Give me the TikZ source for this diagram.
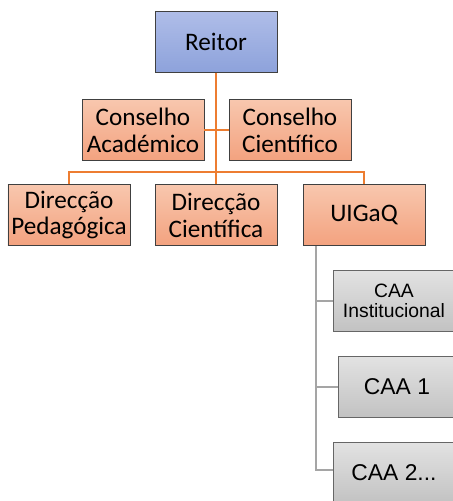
\documentclass[tikz,border=0pt]{standalone}
\usepackage{fontspec}
\setmainfont{Carlito}
\newfontfamily\arialfont{Liberation Sans}
\usepackage{tikz}
\usetikzlibrary{calc}

\definecolor{orgline}{HTML}{ED7D31}
\definecolor{greyline}{HTML}{A5A5A5}
\definecolor{bluetop}{HTML}{AFBDE8}
\definecolor{bluebot}{HTML}{8DA2DB}
\definecolor{orgtop}{HTML}{F8C7AE}
\definecolor{orgbot}{HTML}{F3A27F}
\definecolor{greytop}{HTML}{E2E2E2}
\definecolor{greybot}{HTML}{C2C2C2}

\begin{document}
\begin{tikzpicture}[x=0.3mm, y=-0.3mm,
        box/.style={draw=black!75, line width=0.4pt, minimum width=36.6mm, minimum height=18.3mm, align=center, font=\fontsize{21.5}{23}\selectfont, inner sep=1pt},
        bluebox/.style={box, top color=bluetop, bottom color=bluebot},
        orgbox/.style={box, top color=orgtop, bottom color=orgbot},
        greybox/.style={box, draw=black!60, top color=greytop, bottom color=greybot, font=\arialfont\fontsize{19.5}{21}\selectfont},
        orgedge/.style={draw=orgline, line width=1.6pt},
        greyedge/.style={draw=greyline, line width=1.6pt}]
        \useasboundingbox (0,0) rectangle (452,501);

        \node[bluebox] (reitor) at (216,42) {Reitor};
        \node[orgbox] (consAcad) at (143,130) {Conselho\\Académico};
        \node[orgbox] (consCient) at (290,130) {Conselho\\Científico};
        \node[orgbox] (dirPed) at (69,215) {Direcção\\Pedagógica};
        \node[orgbox] (dirCient) at (216,215) {Direcção\\Científica};
        \node[orgbox] (uigaq) at (364,215) {UIGaQ};
        \node[greybox, font=\arialfont\fontsize{16.5}{17}\selectfont] (caaInst) at (394,301) {CAA\\Institucional};
        \node[greybox, minimum width=35.4mm] (caa1) at (397,387) {CAA 1};
        \node[greybox] (caa2) at (394,473) {CAA 2...};

        \coordinate (bus) at (216,172);
        \coordinate (gtop) at (316,246);

        \draw[orgedge] (reitor) -- (dirCient);
        \draw[orgedge] (consAcad.east) -- (consCient.west);
        \draw[orgedge] (dirPed.north) |- (bus) -| (uigaq.north);
        \draw[greyedge] (gtop) |- ($(caa2.west)+(0,-3)$);
        \draw[greyedge] (gtop |- caaInst) -- (caaInst.west);
        \draw[greyedge] (gtop |- caa1) -- (caa1.west);
    \end{tikzpicture}
\end{document}
